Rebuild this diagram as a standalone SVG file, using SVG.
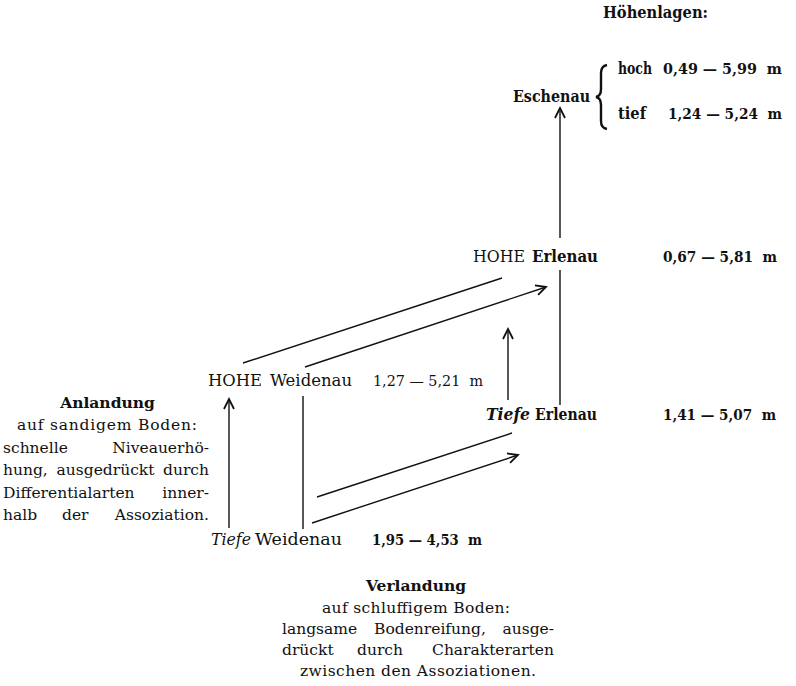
<svg xmlns="http://www.w3.org/2000/svg" width="796" height="686" viewBox="0 0 796 686">
<style>
text{font-family:"DejaVu Serif","Liberation Serif",serif;fill:#111;}
.lb{font-size:16px;}
.num{font-size:14.5px;}
.b{font-weight:bold;}
.i{font-style:italic;}
.body{font-size:15.5px;}
.e{text-anchor:end;}
.m{text-anchor:middle;}
.ln{stroke:#111;stroke-width:1.4;fill:none;}
</style>
<defs>
<marker id="ah" markerUnits="userSpaceOnUse" markerWidth="14" markerHeight="14" viewBox="-11 -7 14 14" refX="0" refY="0" orient="auto">
<path d="M-10,-5 Q-3,-1.5 0,0 Q-3,1.5 -10,5" fill="none" stroke="#111" stroke-width="1.8"/>
</marker>
</defs>
<rect width="796" height="686" fill="#fff"/>

<g id="connectors">
<line class="ln" x1="560" y1="238" x2="560" y2="108" marker-end="url(#ah)"/>
<line class="ln" x1="560" y1="270" x2="560" y2="405"/>
<line class="ln" x1="508" y1="400" x2="508" y2="329" marker-end="url(#ah)"/>
<line class="ln" x1="243" y1="363" x2="502" y2="278"/>
<line class="ln" x1="305" y1="367" x2="546" y2="287" marker-end="url(#ah)"/>
<line class="ln" x1="229" y1="528" x2="229" y2="399" marker-end="url(#ah)"/>
<line class="ln" x1="303" y1="529" x2="303" y2="396"/>
<line class="ln" x1="317" y1="497" x2="512" y2="433"/>
<line class="ln" x1="312" y1="523" x2="518" y2="455" marker-end="url(#ah)"/>
</g>

<g id="legend">
<text class="lb b" x="603" y="18" textLength="105" lengthAdjust="spacingAndGlyphs">Höhenlagen:</text>
</g>

<g id="eschenau">
<text class="lb b" x="513" y="102" textLength="77" lengthAdjust="spacingAndGlyphs">Eschenau</text>
<path d="M607,65 Q601,66 601,73 L601,89 Q601,96 596,97 Q601,98 601,105 L601,121 Q601,128 607,129" fill="none" stroke="#111" stroke-width="2.4"/>
<text class="lb b" x="618" y="74" textLength="34" lengthAdjust="spacingAndGlyphs">hoch</text>
<text class="num b" x="663" y="74" textLength="119" lengthAdjust="spacingAndGlyphs">0,49 — 5,99&#160;&#160;m</text>
<text class="lb b" x="618" y="119" textLength="28" lengthAdjust="spacingAndGlyphs">tief</text>
<text class="num b" x="668" y="119" textLength="114" lengthAdjust="spacingAndGlyphs">1,24 — 5,24&#160;&#160;m</text>
</g>

<g id="hohe-erlenau">
<text class="lb" x="473" y="262" textLength="52" lengthAdjust="spacingAndGlyphs">HOHE</text>
<text class="lb b" x="532" y="262" textLength="66" lengthAdjust="spacingAndGlyphs">Erlenau</text>
<text class="num b" x="663" y="262" textLength="114" lengthAdjust="spacingAndGlyphs">0,67 — 5,81&#160;&#160;m</text>
</g>

<g id="hohe-weidenau">
<text class="lb" x="208" y="386" textLength="54" lengthAdjust="spacingAndGlyphs">HOHE</text>
<text class="lb" x="270" y="386" textLength="82" lengthAdjust="spacingAndGlyphs">Weidenau</text>
<text class="num" x="373" y="386" textLength="110" lengthAdjust="spacingAndGlyphs">1,27 — 5,21&#160;&#160;m</text>
</g>

<g id="tiefe-erlenau">
<text class="lb b i" x="486" y="420" textLength="44" lengthAdjust="spacingAndGlyphs">Tiefe</text>
<text class="lb b" x="535" y="420" textLength="62" lengthAdjust="spacingAndGlyphs">Erlenau</text>
<text class="num b" x="663" y="420" textLength="113" lengthAdjust="spacingAndGlyphs">1,41 — 5,07&#160;&#160;m</text>
</g>

<g id="tiefe-weidenau">
<text class="lb i" x="211" y="545" textLength="40" lengthAdjust="spacingAndGlyphs">Tiefe</text>
<text class="lb" x="255" y="545" textLength="87" lengthAdjust="spacingAndGlyphs">Weidenau</text>
<text class="num b" x="372" y="545" textLength="110" lengthAdjust="spacingAndGlyphs">1,95 — 4,53&#160;&#160;m</text>
</g>

<g id="anlandung">
<text class="body b m" x="107.5" y="408">Anlandung</text>
<text class="body" x="17" y="430" textLength="180" lengthAdjust="spacing">auf sandigem Boden:</text>
<text class="body" x="3" y="453">schnelle</text>
<text class="body e" x="209" y="453">Niveauerhö-</text>
<text class="body" x="3" y="475">hung,</text>
<text class="body m" x="105.5" y="475">ausgedrückt</text>
<text class="body e" x="209" y="475">durch</text>
<text class="body" x="3" y="498">Differentialarten</text>
<text class="body e" x="209" y="498">inner-</text>
<text class="body" x="3" y="520">halb</text>
<text class="body" x="62" y="520">der</text>
<text class="body e" x="209" y="520">Assoziation.</text>
</g>

<g id="verlandung">
<text class="body b m" x="416" y="591">Verlandung</text>
<text class="body" x="322" y="613" textLength="188" lengthAdjust="spacing">auf schluffigem Boden:</text>
<text class="body" x="282" y="634">langsame</text>
<text class="body" x="374" y="634">Bodenreifung,</text>
<text class="body e" x="554" y="634">ausge-</text>
<text class="body" x="282" y="655">drückt</text>
<text class="body" x="357" y="655">durch</text>
<text class="body e" x="554" y="655">Charakterarten</text>
<text class="body" x="300" y="676" textLength="236" lengthAdjust="spacing">zwischen den Assoziationen.</text>
</g>
</svg>
